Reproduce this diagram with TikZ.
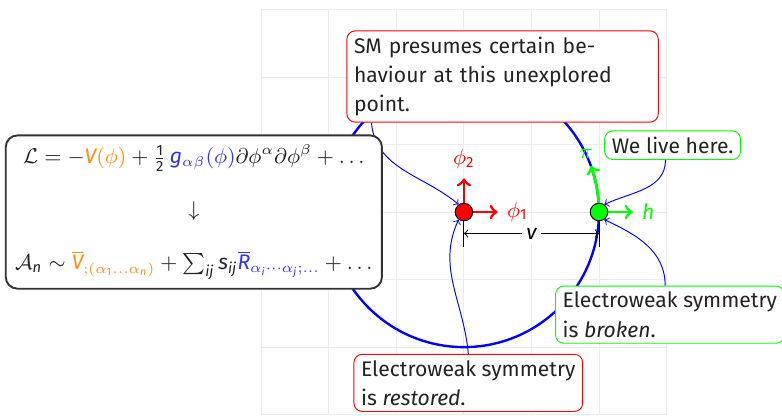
\documentclass[tikz,border=0pt]{standalone}
\usepackage{amsmath}
\usepackage{amssymb}
\usepackage{mathspec}
\setmainfont{Fira Sans}
\setmathsfont(Digits,Latin){Fira Sans}
\usepackage{tikz}
\usepackage{xcolor}
\definecolor{potorange}{RGB}{255,140,20}
\definecolor{metblue}{RGB}{50,50,255}
\definecolor{txtgray}{RGB}{35,35,35}
\newcommand{\pot}[1]{\textcolor{potorange}{#1}}
\newcommand{\met}[1]{\textcolor{metblue}{#1}}

\begin{document}
\begin{tikzpicture}[font=\fontsize{8.9}{12.3}\selectfont,
    notebox/.style={rounded corners=3.5pt, fill=white, thin, inner xsep=3pt,
                    inner ysep=2.5pt, align=left, text=txtgray},
    redbox/.style={notebox, draw=red},
    greenbox/.style={notebox, draw=green},
    pinline/.style={blue, thin, ->},
    vacdot/.style={circle, draw=black, thin, minimum size=0.26cm, inner sep=0pt}]
      \useasboundingbox (-6.87,-3.01) rectangle (4.71,3.14);
      \draw[gray!15] (-3,-3) grid (3,3);
      \draw[blue, line width=1pt] (0,0) circle (2);

      % field directions at the two points
      \coordinate (sym) at (0,0);
      \coordinate (vev) at (2,0);
      \draw[red, very thick, ->] (sym) -- ++(0.5,0) node[right] (phione) {$\phi_1$};
      \draw[red, very thick, ->] (sym) -- ++(0,0.5) node[above] (phitwo) {$\phi_2$};
      \draw[green, very thick, ->] (vev) -- ++(0.5,0) node[right] (hlab) {$h$};
      \draw[green, very thick, ->] (vev) arc[start angle=0, end angle=20, radius=2]
        node[above=-1pt, xshift=-2pt] (pilab) {$\pi$};
      \node[vacdot, fill=red] (symdot) at (sym) {};
      \node[vacdot, fill=green] (vevdot) at (vev) {};

      % distance v
      \draw (symdot.south) -- ++(0,-0.38) coordinate (vl);
      \draw (vevdot.south) -- ++(0,-0.38) coordinate (vr);
      \draw[<->] ([yshift=0.2cm]vl) -- node[fill=white, inner sep=2pt] (vlab) {$v$} ([yshift=0.2cm]vr);

      \node[redbox, text width=4.4cm, anchor=north west] (sm) at (-1.74,2.69)
        {SM presumes certain be-\\haviour at this unexplored\\point.};
      \node[greenbox] (live) at (3.09,0.99) {We live here.};
      \node[greenbox] (broken) at (3.05,-1.52) {Electroweak symmetry\\is \emph{broken}.};
      \node[redbox] (restored) at (0.065,-2.53) {Electroweak symmetry\\is \emph{restored}.};

      \draw[pinline] ([xshift=0.37cm]sm.south west) to[out=-85, in=140] (symdot.125);
      \draw[pinline] (restored.north) to[out=95, in=245] (symdot.235);
      \draw[pinline] ([xshift=-3pt]live.south) to[out=-90, in=25] (vevdot.55);
      \draw[pinline] ([xshift=-2pt]broken.north) to[out=90, in=-25] (vevdot.-55);

      \node[draw=black!80, line width=0.8pt, rounded corners=5pt, fill=white,
            inner sep=4pt, align=center, text=txtgray, anchor=east] (lagr) at (-1.2,0) {
        $\mathcal{L} = -\pot{V(\phi)} + \tfrac{1}{2}\,\met{g_{\alpha\beta}(\phi)}\partial\phi^\alpha\partial\phi^\beta + \ldots$\\[10pt]
        $\downarrow$\\[10pt]
        $\mathcal{A}_n \sim \pot{\overline{V}_{;(\alpha_1\ldots\alpha_n)}} + \sum_{ij} s_{ij}\met{\overline{R}_{\alpha_i\cdots\alpha_j;\ldots}} + \ldots$
      };
    \end{tikzpicture}
\end{document}
